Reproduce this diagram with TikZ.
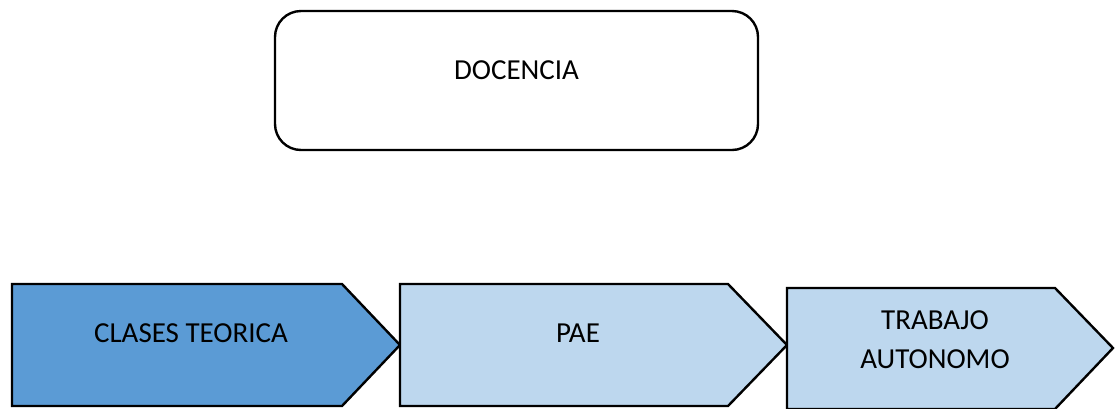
\documentclass[tikz,border=0pt]{standalone}
\usepackage{fontspec}
\setmainfont{Carlito}
\definecolor{stepdark}{HTML}{5B9BD5}
\definecolor{steplight}{HTML}{BDD7EE}
\begin{document}
\begin{tikzpicture}[x=1pt,y=-1pt,
  outline/.style={draw=black,line width=2.4pt,line join=miter},
  label/.style={font=\fontsize{29}{39.5}\selectfont,inner sep=0pt,text=black},
  chevron/.style={outline}]
\useasboundingbox (0,0) rectangle (1115,408);
\begin{scope}
\clip (0,0) rectangle (1115,408);
% top rounded box
\draw[outline,rounded corners=26pt] (275,11) rectangle (758,150);
\node[label,anchor=base] (docencia) at (516.5,79) {DOCENCIA};
% process chevrons
\draw[chevron,fill=stepdark]  (12,284) -- (342,284) -- (400,345) -- (342,406) -- (12,406) -- cycle;
\draw[chevron,fill=steplight] (400,284) -- (728,284) -- (787,345) -- (728,406) -- (400,406) -- cycle;
\draw[chevron,fill=steplight] (787,288) -- (1055,288) -- (1113,348) -- (1055,409) -- (787,409) -- cycle;
\node[label,anchor=base] (clases) at (191,342) {CLASES TEORICA};
\node[label,anchor=base] (pae) at (578,342) {PAE};
\node[label,anchor=north,align=center] (trabajo) at (935,310) {TRABAJO\\AUTONOMO};
\end{scope}
\end{tikzpicture}
\end{document}
